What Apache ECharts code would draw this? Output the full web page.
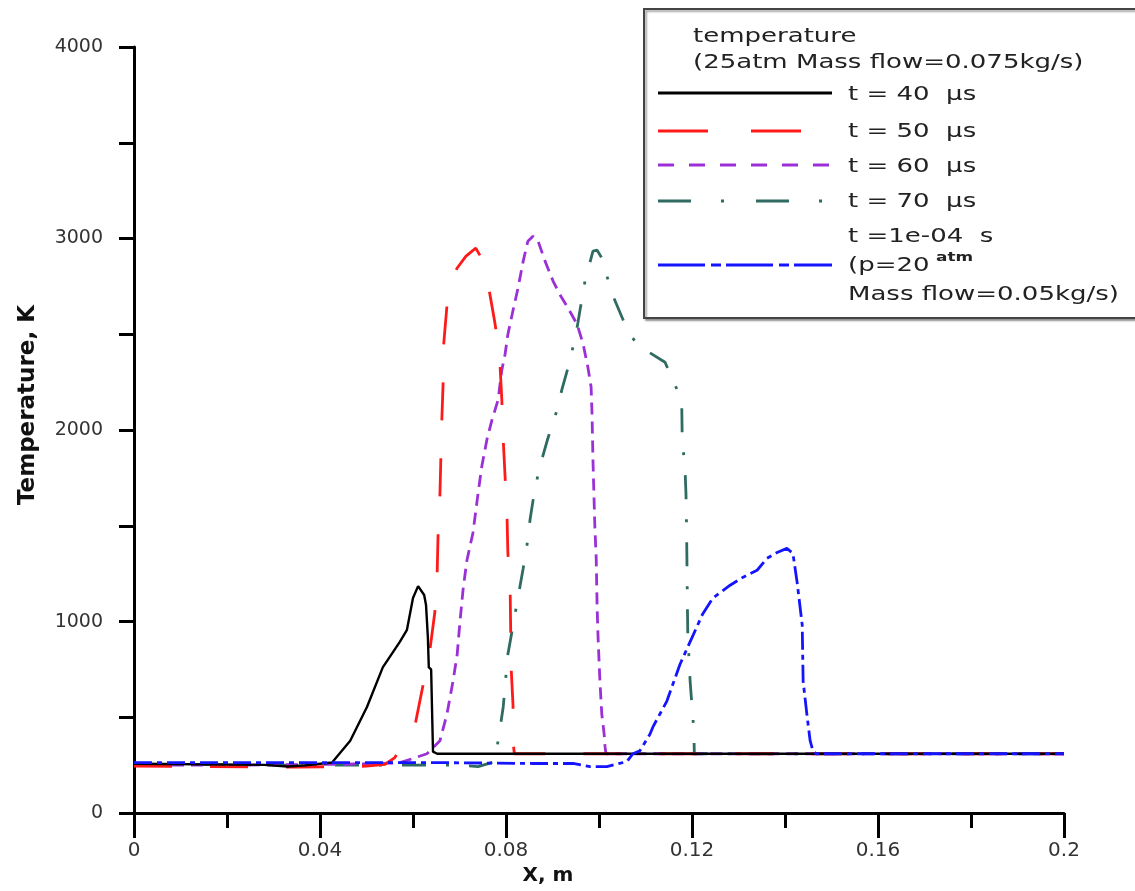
<!DOCTYPE html>
<html>
<head>
<meta charset="utf-8">
<title>Temperature profiles</title>
<script src="https://cdn.jsdelivr.net/npm/echarts@6/dist/echarts.min.js"></script>
<style>
  html, body { margin: 0; padding: 0; background: #fff; }
  #main { width: 1135px; height: 891px; }
</style>
</head>
<body>
<div id="main"></div>
<script>
// data (x in m, T in K)
var t40X = [0, 0.028, 0.033, 0.037, 0.0426, 0.0465, 0.0501, 0.0535, 0.0572, 0.0587, 0.0600, 0.0611, 0.0624, 0.0628, 0.0632, 0.0634, 0.0639, 0.0643, 0.0652, 0.2];
var t40Y = [258, 252, 243, 250, 264, 378, 554, 761, 895, 957, 1123, 1185, 1139, 1087, 916, 761, 750, 321, 310, 310];

var t50X = [0, 0.035, 0.050, 0.054, 0.0561, 0.0604, 0.0622, 0.0637, 0.0647, 0.0652, 0.0654, 0.0658, 0.0660, 0.0662, 0.0665, 0.0666, 0.0673, 0.0684, 0.0695, 0.0714, 0.0735, 0.0751, 0.0761, 0.0776, 0.0783, 0.0787, 0.0791, 0.0794, 0.0798, 0.0802, 0.0804, 0.0809, 0.0810, 0.0811, 0.0815, 0.0816, 0.0818, 0.2];
var t50Y = [245, 240, 245, 255, 290, 455, 673, 864, 1050, 1257, 1464, 1671, 1863, 2054, 2261, 2448, 2649, 2794, 2846, 2908, 2950, 2882, 2768, 2561, 2448, 2344, 2158, 1951, 1759, 1568, 1361, 1154, 968, 761, 569, 352, 310, 310];

var t60X = [0, 0.02, 0.045, 0.057, 0.0600, 0.0630, 0.0658, 0.0673, 0.0686, 0.0695, 0.0701, 0.0708, 0.0716, 0.0729, 0.0740, 0.0748, 0.0759, 0.0770, 0.0783, 0.0791, 0.0798, 0.0804, 0.0815, 0.0826, 0.0837, 0.0847, 0.0858, 0.0869, 0.0884, 0.0901, 0.0916, 0.0933, 0.0953, 0.0966, 0.0976, 0.0983, 0.0985, 0.0987, 0.0989, 0.0991, 0.0994, 0.0996, 0.0998, 0.1002, 0.1006, 0.1011, 0.1013, 0.1015, 0.2];
var t60Y = [250, 250, 255, 262, 285, 310, 378, 517, 688, 828, 999, 1175, 1320, 1464, 1671, 1811, 1951, 2054, 2158, 2313, 2396, 2499, 2624, 2743, 2882, 2986, 3012, 2986, 2882, 2779, 2706, 2639, 2551, 2448, 2329, 2225, 2085, 1847, 1671, 1501, 1330, 1071, 916, 688, 517, 414, 347, 310, 310];

var t70X = [0, 0.040, 0.070, 0.074, 0.0776, 0.0787, 0.0794, 0.0804, 0.0826, 0.0837, 0.0845, 0.0852, 0.0862, 0.0873, 0.0890, 0.0910, 0.0920, 0.0938, 0.0953, 0.0959, 0.0970, 0.0987, 0.0996, 0.1006, 0.1013, 0.1030, 0.1056, 0.1067, 0.1084, 0.1142, 0.1168, 0.1178, 0.1179, 0.1185, 0.1187, 0.1188, 0.1189, 0.1190, 0.1191, 0.1196, 0.1204, 0.1205, 0.2];
var t70Y = [255, 250, 250, 243, 269, 440, 554, 828, 1128, 1278, 1397, 1537, 1692, 1811, 1956, 2106, 2210, 2365, 2536, 2624, 2779, 2934, 2939, 2898, 2836, 2701, 2551, 2499, 2442, 2354, 2210, 2122, 1951, 1796, 1671, 1537, 1345, 1102, 931, 688, 429, 310, 310];

var t100X = [0, 0.0643, 0.0858, 0.0944, 0.0981, 0.1017, 0.1060, 0.1073, 0.1088, 0.1110, 0.1116, 0.1146, 0.1174, 0.1200, 0.1222, 0.1245, 0.1282, 0.1310, 0.1340, 0.1361, 0.1383, 0.1404, 0.1417, 0.1426, 0.1437, 0.1439, 0.1447, 0.1454, 0.1460, 0.1467, 0.2];
var t100Y = [264, 264, 259, 259, 243, 243, 269, 310, 326, 414, 450, 585, 776, 916, 1035, 1123, 1190, 1232, 1268, 1330, 1361, 1382, 1356, 1206, 983, 688, 517, 378, 326, 310, 310];

var seriesNames = ['t = 40 μs', 't = 50 μs', 't = 60 μs', 't = 70 μs', 't = 1e-04 s'];

function pairs(xs, ys) {
    var out = [];
    for (var i = 0; i < xs.length; i++) out.push([xs[i], ys[i]]);
    return out;
}

var chart = echarts.init(document.getElementById('main'));

var axisColor = '#000';
var labelFont = 'DejaVu Sans';
var legendFont = '20px "DejaVu Sans"';
var sx = 1.3; // the legend text in the figure is drawn wide

function legendText(x, y, txt, font) {
    return {
        type: 'text', x: x, y: y, z: 11, scaleX: sx,
        style: { text: txt, font: font || legendFont, fill: '#222', textVerticalAlign: 'middle' }
    };
}
function legendLine(y, color, dash) {
    return {
        type: 'line', z: 11,
        shape: { x1: 658, y1: y, x2: 832, y2: y },
        style: { stroke: color, lineWidth: 3, lineDash: dash || null }
    };
}

var option = {
    backgroundColor: '#fff',
    animation: false,
    grid: { left: 134, right: 71, top: 47, bottom: 71 },
    xAxis: {
        type: 'value',
        min: 0, max: 0.2, interval: 0.04,
        name: 'X, m',
        nameLocation: 'middle',
        nameGap: 42,
        nameTextStyle: { fontFamily: labelFont, fontWeight: 'bold', fontSize: 20, color: '#111', padding: [0, 102, 0, 0] },
        axisLine: { lineStyle: { color: axisColor, width: 3 } },
        axisTick: { length: 25, lineStyle: { color: axisColor, width: 3 } },
        minorTick: { show: true, splitNumber: 2, length: 15, lineStyle: { color: axisColor, width: 3 } },
        axisLabel: { margin: 28, fontFamily: labelFont, fontSize: 20, color: '#333' },
        splitLine: { show: false }
    },
    yAxis: {
        type: 'value',
        min: 0, max: 4000, interval: 1000,
        name: 'Temperature, K',
        nameLocation: 'middle',
        nameGap: 94,
        nameTextStyle: { fontFamily: labelFont, fontWeight: 'bold', fontSize: 23, color: '#111', padding: [0, 0, 0, 50] },
        axisLine: { lineStyle: { color: axisColor, width: 3 } },
        axisTick: { length: 15, lineStyle: { color: axisColor, width: 3 } },
        minorTick: { show: true, splitNumber: 2, length: 15, lineStyle: { color: axisColor, width: 3 } },
        axisLabel: {
            margin: 31, fontFamily: labelFont, fontSize: 19, color: '#333',
            formatter: function (v) { return String(v); }
        },
        splitLine: { show: false }
    },
    series: [
        {
            name: seriesNames[3], type: 'line', symbol: 'none', data: pairs(t70X, t70Y),
            lineStyle: { color: '#2f6b60', width: 2.8, type: [24, 20, 3, 20] }
        },
        {
            name: seriesNames[2], type: 'line', symbol: 'none', data: pairs(t60X, t60Y),
            lineStyle: { color: '#9b30d6', width: 2.8, type: [12, 7] }
        },
        {
            name: seriesNames[1], type: 'line', symbol: 'none', data: pairs(t50X, t50Y),
            lineStyle: { color: '#ff1a1a', width: 2.8, type: [38, 38] }
        },
        {
            name: seriesNames[0], type: 'line', symbol: 'none', data: pairs(t40X, t40Y),
            lineStyle: { color: '#000', width: 2.4, type: 'solid' }
        },
        {
            name: seriesNames[4], type: 'line', symbol: 'none', data: pairs(t100X, t100Y),
            lineStyle: { color: '#1414ff', width: 2.8, type: [18, 5, 5, 5] }
        }
    ],
    graphic: [
        // legend box
        {
            type: 'rect', left: 643, top: 8, z: 10,
            shape: { width: 500, height: 309 },
            style: { fill: '#fff', stroke: '#444', lineWidth: 2, shadowColor: 'rgba(0,0,0,0.35)', shadowOffsetX: 2, shadowOffsetY: 2, shadowBlur: 2 }
        },
        legendText(693, 37, 'temperature'),
        legendText(693, 63, '(25atm Mass flow=0.075kg/s)'),

        legendLine(93, '#000'),
        legendText(848, 95, 't = 40  μs'),

        legendLine(131, '#ff1a1a', [50, 43]),
        legendText(848, 132, 't = 50  μs'),

        legendLine(165, '#9b30d6', [16, 15]),
        legendText(848, 167, 't = 60  μs'),

        legendLine(201, '#2f6b60', [33, 30, 3, 32]),
        legendText(848, 202, 't = 70  μs'),

        legendText(848, 237, 't =1e-04  s'),
        legendLine(265, '#1414ff', [47, 6, 10, 5]),
        legendText(848, 266, '(p=20'),
        legendText(936, 258, 'atm', 'bold 13px "DejaVu Sans"'),
        legendText(848, 295, 'Mass flow=0.05kg/s)')
    ]
};

chart.setOption(option);
</script>
</body>
</html>
